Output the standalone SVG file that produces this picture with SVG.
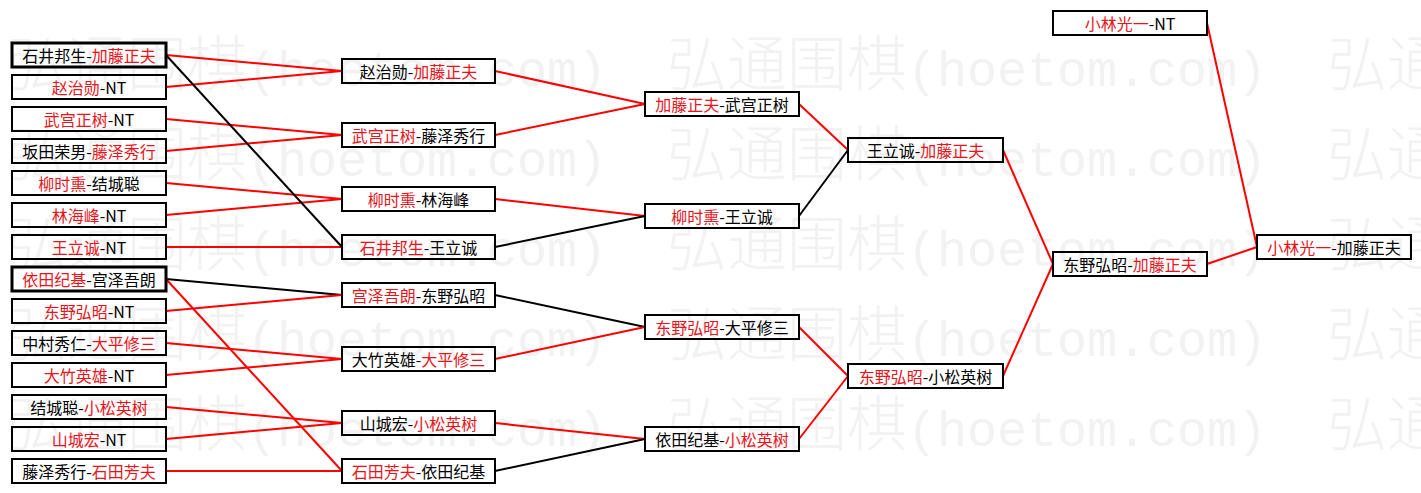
<svg xmlns="http://www.w3.org/2000/svg" width="1421" height="493" viewBox="0 0 1421 493">
<style>
.wm{fill:#f2f2f2;font-size:60px;font-family:"Noto Sans CJK SC","Liberation Mono",sans-serif;font-weight:300}
.wm .l{font-family:"Liberation Mono",monospace;font-size:50px}
.box{fill:none;stroke:#000;stroke-width:2}
.bold{stroke-width:3}
.t{font-family:"Noto Sans CJK SC","Noto Sans",sans-serif;font-size:16px;fill:#000;text-anchor:middle;dominant-baseline:central}
.r{fill:#e8141c}
.cr{stroke:#ff0000;stroke-width:2;fill:none}
.cb{stroke:#000;stroke-width:2;fill:none}
</style>
<rect width="1421" height="493" fill="#fff"/>
<g id="watermark" class="wm">
<text x="7" y="86">弘通围棋<tspan class="l">(hoetom.com)</tspan><tspan dx="60">弘通围棋</tspan><tspan class="l">(hoetom.com)</tspan><tspan dx="60">弘通</tspan></text>
<text x="7" y="176">弘通围棋<tspan class="l">(hoetom.com)</tspan><tspan dx="60">弘通围棋</tspan><tspan class="l">(hoetom.com)</tspan><tspan dx="60">弘通</tspan></text>
<text x="7" y="266">弘通围棋<tspan class="l">(hoetom.com)</tspan><tspan dx="60">弘通围棋</tspan><tspan class="l">(hoetom.com)</tspan><tspan dx="60">弘通</tspan></text>
<text x="7" y="356">弘通围棋<tspan class="l">(hoetom.com)</tspan><tspan dx="60">弘通围棋</tspan><tspan class="l">(hoetom.com)</tspan><tspan dx="60">弘通</tspan></text>
<text x="7" y="446">弘通围棋<tspan class="l">(hoetom.com)</tspan><tspan dx="60">弘通围棋</tspan><tspan class="l">(hoetom.com)</tspan><tspan dx="60">弘通</tspan></text>
</g>
<g id="connectors">
<line class="cr" x1="166" y1="55" x2="342" y2="71"/>
<line class="cr" x1="166" y1="87" x2="342" y2="71"/>
<line class="cr" x1="166" y1="119" x2="342" y2="135"/>
<line class="cr" x1="166" y1="151" x2="342" y2="135"/>
<line class="cr" x1="166" y1="183" x2="342" y2="199"/>
<line class="cr" x1="166" y1="215" x2="342" y2="199"/>
<line class="cr" x1="166" y1="247" x2="342" y2="247"/>
<line class="cb" x1="166" y1="55" x2="342" y2="247"/>
<line class="cb" x1="166" y1="279" x2="342" y2="295"/>
<line class="cr" x1="166" y1="311" x2="342" y2="295"/>
<line class="cr" x1="166" y1="343" x2="342" y2="359"/>
<line class="cr" x1="166" y1="375" x2="342" y2="359"/>
<line class="cr" x1="166" y1="407" x2="342" y2="423"/>
<line class="cr" x1="166" y1="439" x2="342" y2="423"/>
<line class="cr" x1="166" y1="471" x2="342" y2="471"/>
<line class="cr" x1="166" y1="279" x2="342" y2="471"/>
<line class="cr" x1="495" y1="71" x2="645" y2="104"/>
<line class="cr" x1="495" y1="135" x2="645" y2="104"/>
<line class="cr" x1="495" y1="199" x2="645" y2="216"/>
<line class="cb" x1="495" y1="247" x2="645" y2="216"/>
<line class="cb" x1="495" y1="295" x2="645" y2="327"/>
<line class="cr" x1="495" y1="359" x2="645" y2="327"/>
<line class="cr" x1="495" y1="423" x2="645" y2="439"/>
<line class="cb" x1="495" y1="471" x2="645" y2="439"/>
<line class="cr" x1="799" y1="104" x2="848" y2="150"/>
<line class="cb" x1="799" y1="216" x2="848" y2="150"/>
<line class="cr" x1="799" y1="327" x2="848" y2="376"/>
<line class="cr" x1="799" y1="439" x2="848" y2="376"/>
<line class="cr" x1="1003" y1="150" x2="1053" y2="264"/>
<line class="cr" x1="1003" y1="376" x2="1053" y2="264"/>
<line class="cr" x1="1207" y1="23" x2="1257" y2="247"/>
<line class="cr" x1="1207" y1="264" x2="1257" y2="247"/>
</g>
<g id="r1-1"><rect class="box bold" x="12" y="43" width="154" height="24"/><text class="t" x="89" y="55">石井邦生-<tspan class="r">加藤正夫</tspan></text></g>
<g id="r1-2"><rect class="box" x="12" y="75" width="154" height="24"/><text class="t" x="89" y="87"><tspan class="r">赵治勋</tspan>-NT</text></g>
<g id="r1-3"><rect class="box" x="12" y="107" width="154" height="24"/><text class="t" x="89" y="119"><tspan class="r">武宫正树</tspan>-NT</text></g>
<g id="r1-4"><rect class="box" x="12" y="139" width="154" height="24"/><text class="t" x="89" y="151">坂田荣男-<tspan class="r">藤泽秀行</tspan></text></g>
<g id="r1-5"><rect class="box" x="12" y="171" width="154" height="24"/><text class="t" x="89" y="183"><tspan class="r">柳时熏</tspan>-结城聪</text></g>
<g id="r1-6"><rect class="box" x="12" y="203" width="154" height="24"/><text class="t" x="89" y="215"><tspan class="r">林海峰</tspan>-NT</text></g>
<g id="r1-7"><rect class="box" x="12" y="235" width="154" height="24"/><text class="t" x="89" y="247"><tspan class="r">王立诚</tspan>-NT</text></g>
<g id="r1-8"><rect class="box bold" x="12" y="267" width="154" height="24"/><text class="t" x="89" y="279"><tspan class="r">依田纪基</tspan>-宫泽吾朗</text></g>
<g id="r1-9"><rect class="box" x="12" y="299" width="154" height="24"/><text class="t" x="89" y="311"><tspan class="r">东野弘昭</tspan>-NT</text></g>
<g id="r1-10"><rect class="box" x="12" y="331" width="154" height="24"/><text class="t" x="89" y="343">中村秀仁-<tspan class="r">大平修三</tspan></text></g>
<g id="r1-11"><rect class="box" x="12" y="363" width="154" height="24"/><text class="t" x="89" y="375"><tspan class="r">大竹英雄</tspan>-NT</text></g>
<g id="r1-12"><rect class="box" x="12" y="395" width="154" height="24"/><text class="t" x="89" y="407">结城聪-<tspan class="r">小松英树</tspan></text></g>
<g id="r1-13"><rect class="box" x="12" y="427" width="154" height="24"/><text class="t" x="89" y="439"><tspan class="r">山城宏</tspan>-NT</text></g>
<g id="r1-14"><rect class="box" x="12" y="459" width="154" height="24"/><text class="t" x="89" y="471">藤泽秀行-<tspan class="r">石田芳夫</tspan></text></g>
<g id="r2-1"><rect class="box" x="342" y="59" width="153" height="24"/><text class="t" x="418.5" y="71">赵治勋-<tspan class="r">加藤正夫</tspan></text></g>
<g id="r2-2"><rect class="box" x="342" y="123" width="153" height="24"/><text class="t" x="418.5" y="135"><tspan class="r">武宫正树</tspan>-藤泽秀行</text></g>
<g id="r2-3"><rect class="box" x="342" y="187" width="153" height="24"/><text class="t" x="418.5" y="199"><tspan class="r">柳时熏</tspan>-林海峰</text></g>
<g id="r2-4"><rect class="box" x="342" y="235" width="153" height="24"/><text class="t" x="418.5" y="247"><tspan class="r">石井邦生</tspan>-王立诚</text></g>
<g id="r2-5"><rect class="box" x="342" y="283" width="153" height="24"/><text class="t" x="418.5" y="295"><tspan class="r">宫泽吾朗</tspan>-东野弘昭</text></g>
<g id="r2-6"><rect class="box" x="342" y="347" width="153" height="24"/><text class="t" x="418.5" y="359">大竹英雄-<tspan class="r">大平修三</tspan></text></g>
<g id="r2-7"><rect class="box" x="342" y="411" width="153" height="24"/><text class="t" x="418.5" y="423">山城宏-<tspan class="r">小松英树</tspan></text></g>
<g id="r2-8"><rect class="box" x="342" y="459" width="153" height="24"/><text class="t" x="418.5" y="471"><tspan class="r">石田芳夫</tspan>-依田纪基</text></g>
<g id="r3-1"><rect class="box" x="645" y="92" width="154" height="24"/><text class="t" x="722" y="104"><tspan class="r">加藤正夫</tspan>-武宫正树</text></g>
<g id="r3-2"><rect class="box" x="645" y="204" width="154" height="24"/><text class="t" x="722" y="216"><tspan class="r">柳时熏</tspan>-王立诚</text></g>
<g id="r3-3"><rect class="box" x="645" y="315" width="154" height="24"/><text class="t" x="722" y="327"><tspan class="r">东野弘昭</tspan>-大平修三</text></g>
<g id="r3-4"><rect class="box" x="645" y="427" width="154" height="24"/><text class="t" x="722" y="439">依田纪基-<tspan class="r">小松英树</tspan></text></g>
<g id="r4-1"><rect class="box" x="848" y="138" width="155" height="24"/><text class="t" x="925.5" y="150">王立诚-<tspan class="r">加藤正夫</tspan></text></g>
<g id="r4-2"><rect class="box" x="848" y="364" width="155" height="24"/><text class="t" x="925.5" y="376"><tspan class="r">东野弘昭</tspan>-小松英树</text></g>
<g id="r5-1"><rect class="box" x="1053" y="11" width="154" height="24"/><text class="t" x="1130" y="23"><tspan class="r">小林光一</tspan>-NT</text></g>
<g id="r5-2"><rect class="box" x="1053" y="252" width="154" height="24"/><text class="t" x="1130" y="264">东野弘昭-<tspan class="r">加藤正夫</tspan></text></g>
<g id="r6-1"><rect class="box" x="1257" y="235" width="154" height="24"/><text class="t" x="1334" y="247"><tspan class="r">小林光一</tspan>-加藤正夫</text></g>
</svg>
